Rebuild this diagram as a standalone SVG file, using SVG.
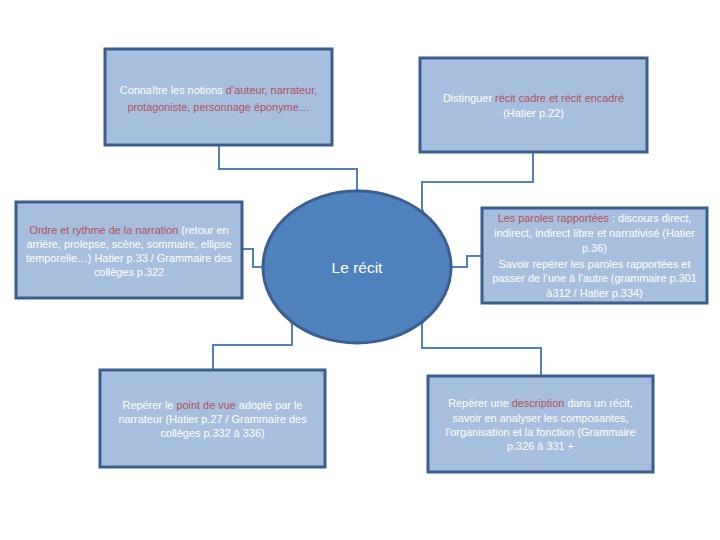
<svg xmlns="http://www.w3.org/2000/svg" width="720" height="540" viewBox="0 0 720 540">
<style>
.box{fill:#A7BFDE;stroke:#3A5F8F;stroke-width:3}
.t{font-family:"Liberation Sans",Arial,sans-serif;font-size:10.9px;fill:#FFFFFF;text-anchor:middle}
.r{fill:#B5505F}
.c{fill:none;stroke:#4F81BD;stroke-width:2;marker-end:url(#dot)}
</style>
<defs>
<marker id="dot" viewBox="0 0 4 4" refX="2" refY="2" markerWidth="4" markerHeight="4" markerUnits="userSpaceOnUse"><circle cx="2" cy="2" r="2" fill="#4F81BD"/></marker>
</defs>
<rect width="720" height="540" fill="#FFFFFF"/>
<g id="connectors">
<path class="c" d="M219,145 V169 H357 V191"/>
<path class="c" d="M533,152 V182 H422 V211"/>
<path class="c" d="M242,249 H253 V267 H263"/>
<path class="c" d="M482,256 H467 V267 H451"/>
<path class="c" d="M213,370 V345 H292 V322"/>
<path class="c" d="M541,376 V348 H422 V322"/>
</g>
<g id="center">
<ellipse cx="357" cy="267" rx="94" ry="76" fill="#4F81BD" stroke="#3A5F8F" stroke-width="3"/>
<text x="357" y="272.5" font-family="Liberation Sans,Arial,sans-serif" font-size="15.5" fill="#FFFFFF" text-anchor="middle">Le récit</text>
</g>
<g id="n1">
<rect class="box" x="105" y="49" width="227" height="96"/>
<text class="t" x="218.5" y="93.5">Connaître les notions <tspan class="r">d’auteur, narrateur,</tspan></text>
<text class="t" x="218.5" y="110.5"><tspan class="r">protagoniste, personnage éponyme…</tspan></text>
</g>
<g id="n2">
<rect class="box" x="420" y="58" width="227" height="94"/>
<text class="t" x="533.5" y="101.5">Distinguer <tspan class="r">récit cadre et récit encadré</tspan></text>
<text class="t" x="533.5" y="117">(Hatier p.22)</text>
</g>
<g id="n3">
<rect class="box" x="16" y="202" width="226" height="96"/>
<text class="t" x="129" y="233.5"><tspan class="r">Ordre et rythme de la narration</tspan> (retour en</text>
<text class="t" x="129" y="248">arrière, prolepse, scène, sommaire, ellipse</text>
<text class="t" x="129" y="262">temporelle…) Hatier p.33 / Grammaire des</text>
<text class="t" x="129" y="276">collèges p.322</text>
</g>
<g id="n4">
<rect class="box" x="482" y="208" width="225" height="95"/>
<text class="t" x="594.5" y="221.5"><tspan class="r">Les paroles rapportées</tspan> : discours direct,</text>
<text class="t" x="594.5" y="237">indirect, indirect libre et narrativisé (Hatier</text>
<text class="t" x="594.5" y="251.5">p.36)</text>
<text class="t" x="594.5" y="267.5">Savoir repérer les paroles rapportées et</text>
<text class="t" x="594.5" y="282">passer de l’une à l’autre (grammaire p.301</text>
<text class="t" x="594.5" y="296.5">à312 / Hatier p.334)</text>
</g>
<g id="n5">
<rect class="box" x="100" y="370" width="225" height="97"/>
<text class="t" x="212.5" y="408.5">Repérer le <tspan class="r">point de vue</tspan> adopté par le</text>
<text class="t" x="212.5" y="422.5">narrateur (Hatier p.27 / Grammaire des</text>
<text class="t" x="212.5" y="436.5">collèges p.332 à 336)</text>
</g>
<g id="n6">
<rect class="box" x="428" y="376" width="225" height="96"/>
<text class="t" x="540.5" y="406.5">Repérer une <tspan class="r">description</tspan> dans un récit,</text>
<text class="t" x="540.5" y="421.5">savoir en analyser les composantes,</text>
<text class="t" x="540.5" y="435.5">l’organisation et la fonction (Grammaire</text>
<text class="t" x="540.5" y="449.5">p.326 à 331 +</text>
</g>
</svg>
